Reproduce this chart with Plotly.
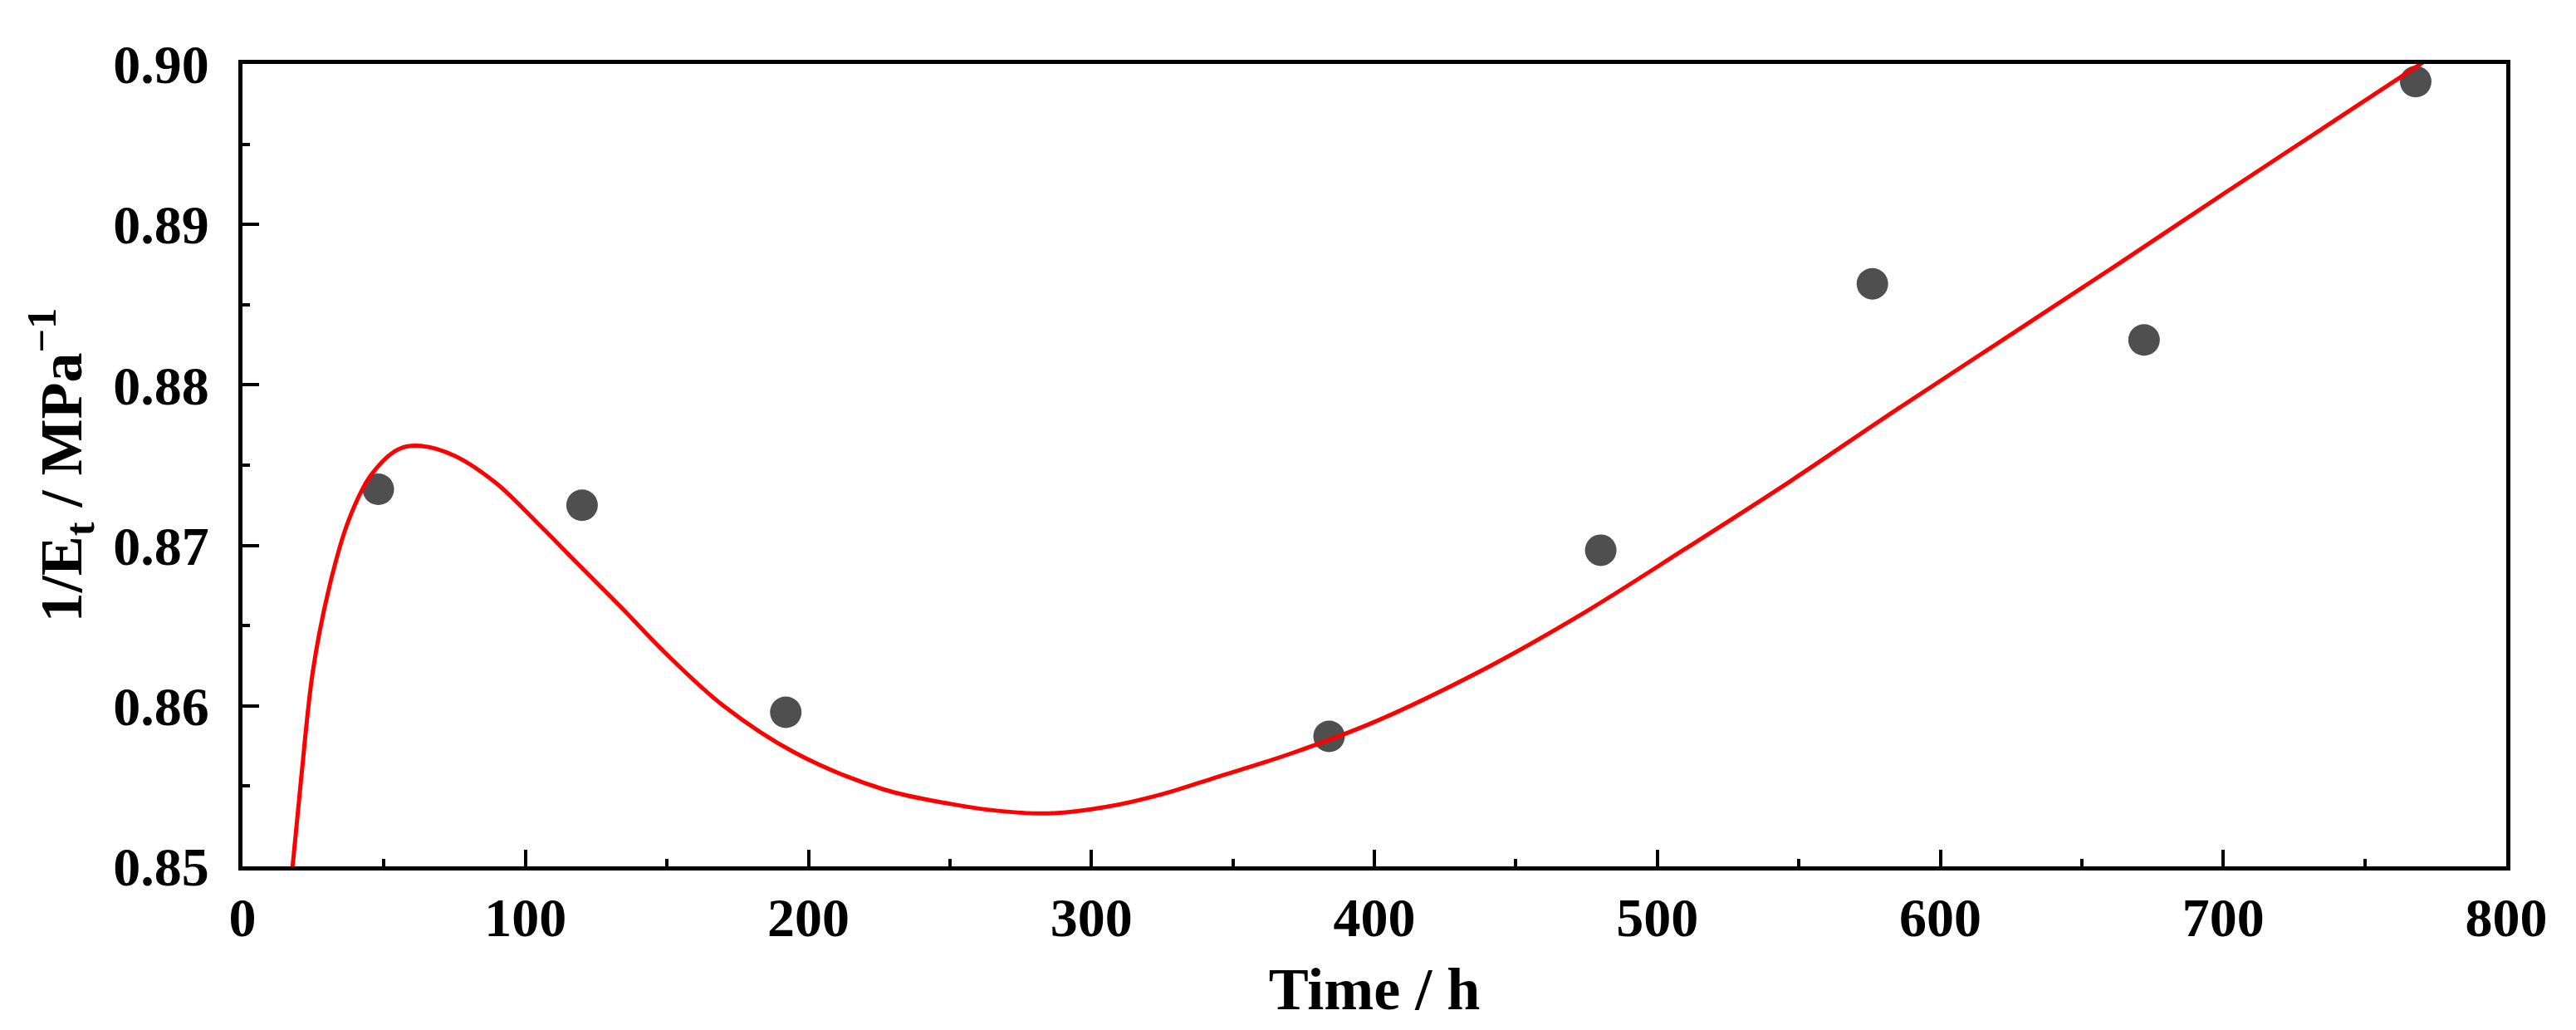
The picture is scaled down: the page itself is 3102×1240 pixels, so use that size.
import plotly.graph_objects as go

# Measured data points
time_h = [48, 120, 192, 384, 480, 576, 672, 768]
inv_Et = [0.8735, 0.8725, 0.8596, 0.8581, 0.8697, 0.8863, 0.8828, 0.8989]

# Fitted curve
fit_t = [17.6, 20.8, 24.9, 30.8, 37.6, 45.5, 55.2, 63.1, 74.8, 89.5, 104.2, 118.8,
         133.5, 150, 170, 195, 226.5, 250, 265, 285, 305, 325, 345, 370, 400, 440,
         475, 510, 547, 584, 622, 660, 700, 737, 774]
fit_v = [0.8498, 0.8556, 0.8622, 0.8675, 0.8716, 0.8744, 0.8760, 0.8762, 0.8756,
         0.8739, 0.8714, 0.8688, 0.8662, 0.8632, 0.8600, 0.8571, 0.8548, 0.8539,
         0.8535, 0.8533, 0.8537, 0.8545, 0.8556, 0.8570, 0.8590, 0.8624, 0.8659,
         0.8698, 0.8740, 0.8784, 0.8828, 0.8872, 0.8919, 0.8962, 0.9005]

x_ticks = [0, 100, 200, 300, 400, 500, 600, 700, 800]
y_ticks = [0.85, 0.86, 0.87, 0.88, 0.89, 0.90]
y_tick_labels = ["0.85", "0.86", "0.87", "0.88", "0.89", "0.90"]

FONT = "Liberation Serif, Times New Roman, serif"

fig = go.Figure()
fig.add_trace(go.Scatter(
    x=time_h, y=inv_Et, mode="markers",
    marker=dict(size=38, color="#4f4f4f", line=dict(width=0)),
    showlegend=False,
))
fig.add_trace(go.Scatter(
    x=fit_t, y=fit_v, mode="lines", line_shape="spline",
    line=dict(color="#ff0000", width=5, smoothing=1.0),
    showlegend=False,
))

axis_common = dict(
    showline=True, linecolor="black", linewidth=5, mirror=True,
    ticks="inside", tickcolor="black", tickwidth=4, ticklen=20,
    showgrid=False, zeroline=False,
    tickfont=dict(family=FONT, size=66, color="black", weight="bold"),
)

fig.update_xaxes(
    range=[0, 800], tickvals=x_ticks, ticktext=[str(v) for v in x_ticks],
    minor=dict(ticks="inside", ticklen=9, tickwidth=4, tickcolor="black", dtick=50, showgrid=False),
    title=dict(text="Time / h", font=dict(family=FONT, size=72, color="black", weight="bold"), standoff=26),
    ticklabelstandoff=0,
    **axis_common,
)
fig.update_yaxes(
    range=[0.85, 0.90], tickvals=y_ticks, ticktext=y_tick_labels,
    minor=dict(ticks="inside", ticklen=9, tickwidth=4, tickcolor="black", dtick=0.005, showgrid=False),
    title=dict(text="1/E<sub>t</sub> / MPa<sup>\u22121</sup>",
               font=dict(family=FONT, size=72, color="black", weight="bold"), standoff=16),
    ticklabelstandoff=22,
    **axis_common,
)

fig.update_layout(
    width=3102, height=1240,
    margin=dict(l=292, r=84, t=77, b=197, pad=0),
    paper_bgcolor="white", plot_bgcolor="white",
    font=dict(family=FONT, color="black"),
)

fig.write_html("out.html")
